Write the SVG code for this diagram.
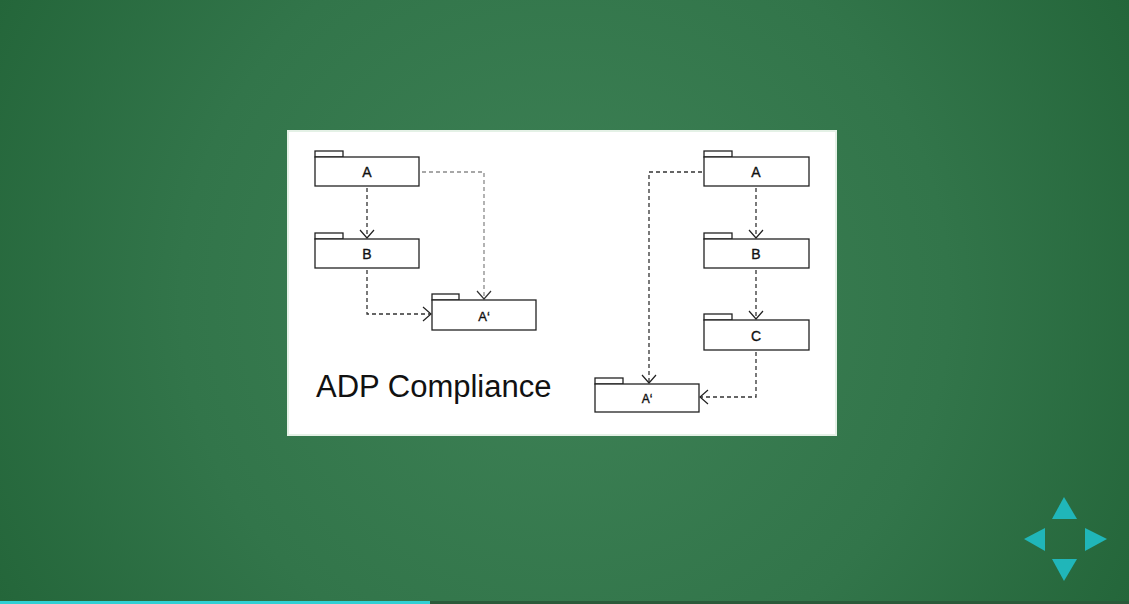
<svg xmlns="http://www.w3.org/2000/svg" width="1129" height="604" viewBox="0 0 1129 604">
<defs>
<radialGradient id="bg" cx="565" cy="300" r="640" gradientUnits="userSpaceOnUse">
<stop offset="0" stop-color="#3e8256"/>
<stop offset="0.6" stop-color="#32754a"/>
<stop offset="1" stop-color="#24663a"/>
</radialGradient>
<marker id="v" markerWidth="16" markerHeight="18" refX="13" refY="9" orient="auto" markerUnits="userSpaceOnUse">
<path d="M5,2 L13,9 L5,16" fill="none" stroke="#222" stroke-width="1.2"/>
</marker>
<marker id="vg" markerWidth="16" markerHeight="18" refX="13" refY="9" orient="auto" markerUnits="userSpaceOnUse">
<path d="M5,2 L13,9 L5,16" fill="none" stroke="#333" stroke-width="1.2"/>
</marker>
</defs>
<style>
.pkg rect{fill:#fff;stroke:#222;stroke-width:1.3}
.lbl{font-family:"Liberation Sans",Arial,sans-serif;font-size:14px;fill:#111;stroke:#111;stroke-width:0.35;text-anchor:middle;dominant-baseline:central}
.c{fill:none;stroke:#333;stroke-width:1.3;stroke-dasharray:4 3}
.cl{fill:none;stroke:#8a8a8a;stroke-width:1.3;stroke-dasharray:4 3}
.nav{fill:#20b6b9}
</style>
<rect width="1129" height="604" fill="url(#bg)"/>
<rect x="287" y="130" width="550" height="306" fill="#e4f1e6"/>
<rect x="289" y="132" width="546" height="302" fill="#fff"/>

<g id="connectors">
<path class="c" d="M367,188 V238" marker-end="url(#v)"/>
<path class="cl" d="M422,172 H484 V299" marker-end="url(#vg)"/>
<path class="c" d="M367,270 V314 H431" marker-end="url(#v)"/>
<path class="c" d="M702,172 H649 V383" marker-end="url(#v)"/>
<path class="c" d="M756,188 V238" marker-end="url(#v)"/>
<path class="c" d="M756,270 V319" marker-end="url(#v)"/>
<path class="c" d="M756,352 V397 H700" marker-end="url(#v)"/>
</g>

<g id="pkgA1" class="pkg"><rect x="315" y="151" width="28" height="6"/><rect x="315" y="157" width="104" height="29"/><text class="lbl" x="367" y="172">A</text></g>
<g id="pkgB1" class="pkg"><rect x="315" y="233" width="28" height="6"/><rect x="315" y="239" width="104" height="29"/><text class="lbl" x="367" y="254">B</text></g>
<g id="pkgAp1" class="pkg"><rect x="432" y="294" width="27" height="6"/><rect x="432" y="300" width="104" height="30"/><text class="lbl" x="484" y="316" style="font-size:13px">A‘</text></g>

<g id="pkgA2" class="pkg"><rect x="704" y="151" width="28" height="6"/><rect x="704" y="157" width="105" height="29"/><text class="lbl" x="756" y="172">A</text></g>
<g id="pkgB2" class="pkg"><rect x="704" y="233" width="28" height="6"/><rect x="704" y="239" width="105" height="29"/><text class="lbl" x="756" y="254">B</text></g>
<g id="pkgC2" class="pkg"><rect x="704" y="314" width="28" height="6"/><rect x="704" y="320" width="105" height="30"/><text class="lbl" x="756" y="336">C</text></g>
<g id="pkgAp2" class="pkg"><rect x="595" y="378" width="28" height="6"/><rect x="595" y="384" width="104" height="28"/><text class="lbl" x="647" y="399" style="font-size:12px">A‘</text></g>

<text x="316" y="397" style="font-family:'Liberation Sans',Arial,sans-serif;font-size:31px;fill:#111">ADP Compliance</text>

<g id="nav">
<polygon class="nav" points="1064,497 1077,519 1052,519"/>
<polygon class="nav" points="1024,539 1045,528 1045,551"/>
<polygon class="nav" points="1107,539 1085,528 1085,551"/>
<polygon class="nav" points="1064,581 1077,559 1052,559"/>
</g>
<rect x="0" y="601" width="1129" height="3" fill="#2a5a3a"/>
<rect x="0" y="601" width="430" height="3" fill="#2fd0d4"/>
</svg>
